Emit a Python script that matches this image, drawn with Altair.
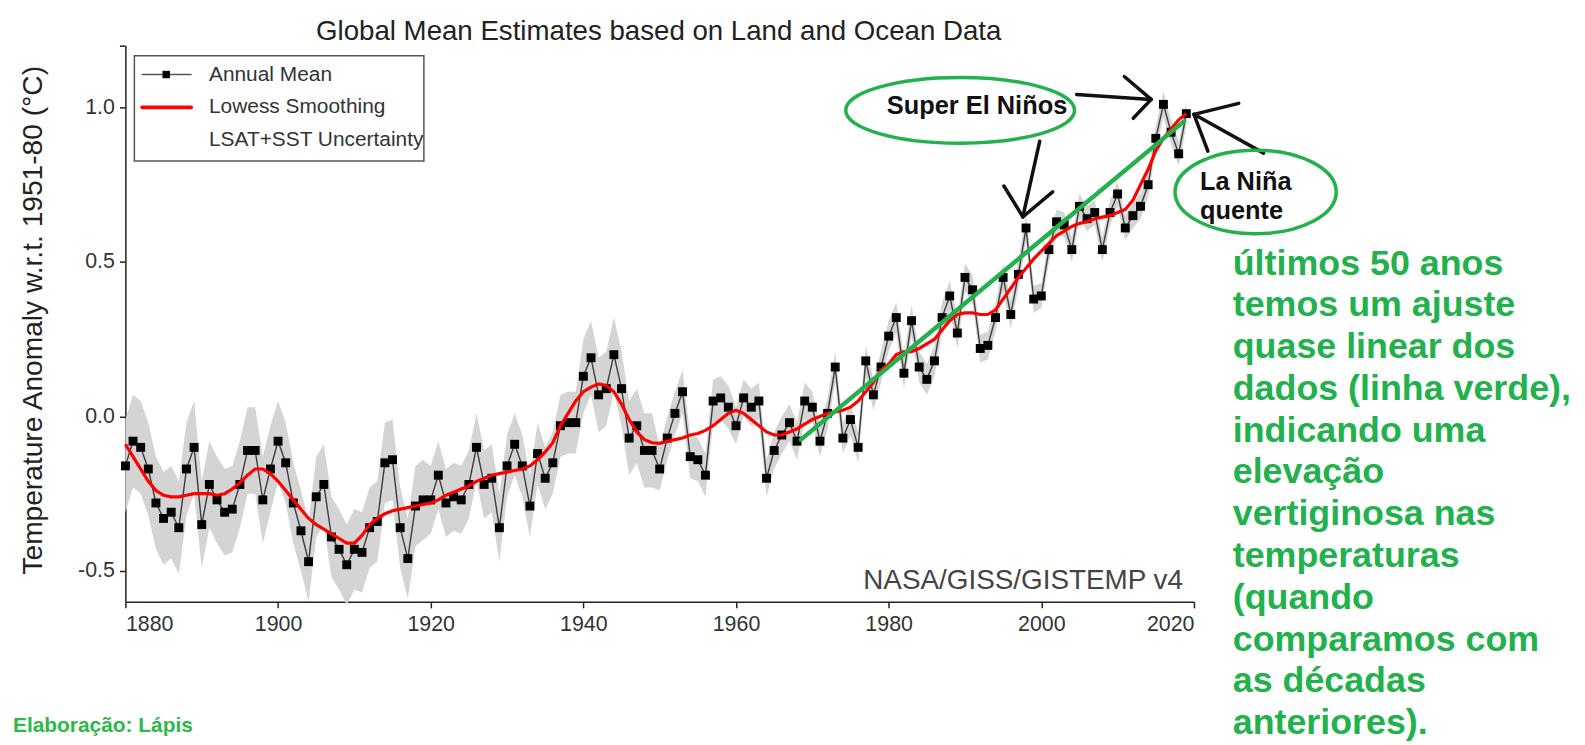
import altair as alt
import pandas as pd

FONT = "Liberation Sans"
GREEN = "#22b14c"

# ---------------- data ----------------
years = list(range(1880, 2020))

annual_mean = [
    -0.16, -0.08, -0.10, -0.17, -0.28, -0.33, -0.31, -0.36, -0.17, -0.10,   # 1880s
    -0.35, -0.22, -0.27, -0.31, -0.30, -0.22, -0.11, -0.11, -0.27, -0.17,   # 1890s
    -0.08, -0.15, -0.28, -0.37, -0.47, -0.26, -0.22, -0.39, -0.43, -0.48,   # 1900s
    -0.43, -0.44, -0.36, -0.34, -0.15, -0.14, -0.36, -0.46, -0.29, -0.27,   # 1910s
    -0.27, -0.19, -0.28, -0.26, -0.27, -0.22, -0.10, -0.22, -0.20, -0.36,   # 1920s
    -0.16, -0.09, -0.16, -0.29, -0.12, -0.20, -0.15, -0.03, -0.02, -0.02,   # 1930s
    0.13, 0.19, 0.07, 0.09, 0.20, 0.09, -0.07, -0.03, -0.11, -0.11,         # 1940s
    -0.17, -0.07, 0.01, 0.08, -0.13, -0.14, -0.19, 0.05, 0.06, 0.03,        # 1950s
    -0.03, 0.06, 0.03, 0.05, -0.20, -0.11, -0.06, -0.02, -0.08, 0.05,       # 1960s
    0.03, -0.08, 0.01, 0.16, -0.07, -0.01, -0.10, 0.18, 0.07, 0.16,         # 1970s
    0.26, 0.32, 0.14, 0.31, 0.16, 0.12, 0.18, 0.32, 0.39, 0.27,             # 1980s
    0.45, 0.41, 0.22, 0.23, 0.32, 0.45, 0.33, 0.46, 0.61, 0.38,             # 1990s
    0.39, 0.54, 0.63, 0.62, 0.54, 0.68, 0.64, 0.66, 0.54, 0.66,             # 2000s
    0.72, 0.61, 0.65, 0.68, 0.75, 0.90, 1.01, 0.92, 0.85, 0.98,             # 2010s
]

lowess = [
    -0.09, -0.13, -0.17, -0.21, -0.24, -0.255, -0.26, -0.26, -0.255, -0.25,
    -0.25, -0.25, -0.255, -0.25, -0.235, -0.215, -0.19, -0.17, -0.17, -0.185,
    -0.21, -0.24, -0.27, -0.30, -0.33, -0.35, -0.365, -0.38, -0.395, -0.41,
    -0.41, -0.385, -0.35, -0.33, -0.315, -0.305, -0.30, -0.295, -0.29, -0.285,
    -0.28, -0.27, -0.255, -0.245, -0.235, -0.225, -0.21, -0.20, -0.19, -0.185,
    -0.18, -0.175, -0.17, -0.16, -0.14, -0.115, -0.085, -0.03, 0.01, 0.05,
    0.08, 0.095, 0.105, 0.10, 0.08, 0.04, -0.01, -0.05, -0.075, -0.085,
    -0.087, -0.08, -0.075, -0.07, -0.06, -0.055, -0.045, -0.03, -0.01, 0.01,
    0.02, 0.01, -0.01, -0.03, -0.05, -0.06, -0.06, -0.05, -0.04, -0.025,
    -0.01, 0.00, 0.01, 0.015, 0.02, 0.03, 0.05, 0.08, 0.11, 0.15,
    0.17, 0.20, 0.21, 0.21, 0.22, 0.235, 0.25, 0.28, 0.31, 0.33,
    0.335, 0.335, 0.33, 0.33, 0.345, 0.38, 0.415, 0.45, 0.48, 0.51,
    0.535, 0.56, 0.585, 0.60, 0.615, 0.625, 0.63, 0.64, 0.645, 0.65,
    0.66, 0.67, 0.70, 0.75, 0.80, 0.86, 0.90, 0.93, 0.96, 0.98,
]

# half-width of the LSAT+SST uncertainty band, one value per decade (1880s ... 2010s)
uncertainty_by_decade = [0.15, 0.14, 0.13, 0.13, 0.11, 0.10, 0.12, 0.07, 0.06, 0.05, 0.05, 0.045, 0.04, 0.04]

# green "linear fit" annotation line (start / end)
fit_years = [1968.5, 2018.7]
fit_values = [-0.075, 0.955]

x_ticks = [1880, 1900, 1920, 1940, 1960, 1980, 2000, 2020]
y_ticks = [-0.5, 0.0, 0.5, 1.0, 1.2]

title_text = "Global Mean Estimates based on Land and Ocean Data"
y_title_text = "Temperature Anomaly w.r.t. 1951-80 (°C)"
legend_labels = ["Annual Mean", "Lowess Smoothing", "LSAT+SST Uncertainty"]
source_text = "NASA/GISS/GISTEMP v4"
credit_text = "Elaboração: Lápis"
note_lines = [
    "últimos 50 anos",
    "temos um ajuste",
    "quase linear dos",
    "dados (linha verde),",
    "indicando uma",
    "elevação",
    "vertiginosa nas",
    "temperaturas",
    "(quando",
    "comparamos com",
    "as décadas",
    "anteriores).",
]

# ---------------- tables ----------------
unc = [uncertainty_by_decade[(y - 1880) // 10] for y in years]
df = pd.DataFrame({"year": years, "anom": annual_mean, "lowess": lowess, "unc": unc})
df["lo"] = df["anom"] - df["unc"]
df["hi"] = df["anom"] + df["unc"]
fit_df = pd.DataFrame({"year": fit_years, "anom": fit_values})
one = pd.DataFrame({"k": [0]})

W, H = 1074, 559
PAD = {"left": 118, "top": 36, "right": 385, "bottom": 140}

xs = alt.Scale(domain=[1880, 2020], nice=False, zero=False)
ys = alt.Scale(domain=[-0.6, 1.2], nice=False, zero=False)

xaxis = alt.Axis(values=x_ticks, format="d", title=None, grid=False,
                 labelFontSize=21.5, labelFont=FONT, labelColor="#333",
                 tickSize=6, tickWidth=1.5, tickColor="#222",
                 domainColor="#222", domainWidth=1.5, labelPadding=6)
yaxis = alt.Axis(values=y_ticks, title=None, grid=False,
                 labelExpr="datum.value > 1.1 ? '' : (datum.value < 0 ? '-' + format(-datum.value, '.1f') : format(datum.value, '.1f'))",
                 labelFontSize=21.5, labelFont=FONT, labelColor="#333",
                 tickSize=6, tickWidth=1.5, tickColor="#222",
                 domainColor="#222", domainWidth=1.5, labelPadding=5)

band = alt.Chart(df).mark_area(color="#d4d4d4", opacity=1).encode(
    x=alt.X("year:Q", scale=xs, axis=xaxis, title=None),
    y=alt.Y("lo:Q", scale=ys, axis=yaxis, title=None),
    y2="hi:Q",
)
ann_line = alt.Chart(df).mark_line(color="#3c3c3c", strokeWidth=1.4).encode(
    x=alt.X("year:Q", title=None), y=alt.Y("anom:Q", title=None))
ann_pts = alt.Chart(df).mark_square(size=80, color="#000000", opacity=1).encode(
    x=alt.X("year:Q", title=None), y=alt.Y("anom:Q", title=None))
low_line = alt.Chart(df).mark_line(color="#ff0000", strokeWidth=3.2).encode(
    x=alt.X("year:Q", title=None), y=alt.Y("lowess:Q", title=None))
fit_line = alt.Chart(fit_df).mark_line(color=GREEN, strokeWidth=4.5, strokeCap="round").encode(
    x=alt.X("year:Q", title=None), y=alt.Y("anom:Q", title=None))


def seg(x1, y1, x2, y2, color="#111111", w=3.5):
    return alt.Chart(one).mark_rule(color=color, strokeWidth=w, strokeCap="round").encode(
        x=alt.value(x1), y=alt.value(y1), x2=alt.value(x2), y2=alt.value(y2))


def txt(text, x, y, size, **kw):
    return alt.Chart(one).mark_text(text=text, fontSize=size, font=FONT, **kw).encode(
        x=alt.value(x), y=alt.value(y))


def ellipse(cx, cy, w, h):
    r = round(h / w, 4)
    path = f"M -1 0 A 1 {r} 0 1 0 1 0 A 1 {r} 0 1 0 -1 0 Z"
    return alt.Chart(one).mark_point(shape=path, size=w * w, filled=False, color=GREEN,
                                     strokeWidth=3.5, opacity=1).encode(
        x=alt.value(cx), y=alt.value(cy))


# legend (drawn by hand, like the reference)
legend = [
    alt.Chart(one).mark_rect(fill="white", stroke="#555", strokeWidth=1.5).encode(
        x=alt.value(9), x2=alt.value(300), y=alt.value(10), y2=alt.value(116)),
    seg(17, 29, 66, 29, color="#555555", w=1.5),
    alt.Chart(one).mark_square(size=56, color="#000", opacity=1).encode(x=alt.value(41), y=alt.value(29)),
    seg(17, 62, 66, 62, color="#ff0000", w=4),
    txt(legend_labels[0], 84, 29, 21, align="left", baseline="middle", color="#333"),
    txt(legend_labels[1], 84, 62, 21, align="left", baseline="middle", color="#333"),
    txt(legend_labels[2], 84, 95, 21, align="left", baseline="middle", color="#333"),
]

annotations = [
    # arrow to 2016
    seg(956, 49, 1031, 54), seg(1004, 31, 1031, 54), seg(1013, 73, 1031, 54),
    # arrow to 1998
    seg(919, 96, 902, 172), seg(883, 141, 902, 172), seg(932, 147, 902, 172),
    # arrow to 2019
    seg(1144, 108, 1074, 69), seg(1119, 58, 1074, 69), seg(1088, 106, 1074, 69),
    ellipse(839, 65, 230, 66),
    ellipse(1136, 147, 162, 84),
    txt("Super El Niños", 856, 61, 25.5, align="center", baseline="middle", fontWeight="bold", color="#111"),
    txt("La Niña", 1080, 137, 25.5, align="left", baseline="middle", fontWeight="bold", color="#111"),
    txt("quente", 1080, 166, 25.5, align="left", baseline="middle", fontWeight="bold", color="#111"),
]

texts = [
    txt(title_text, 536, -14, 27.8, align="center", baseline="middle", color="#222"),
    txt(y_title_text, -92, 276, 28.3, align="center", baseline="middle", angle=270, color="#222"),
    txt(source_text, 1063, 538, 28, align="right", baseline="middle", color="#444"),
    txt(credit_text, -113, 684, 21, align="left", baseline="middle", fontWeight="bold", color="#2eb84a"),
    alt.Chart(one).mark_text(text=note_lines, fontSize=36, font=FONT, fontWeight="bold",
                             color=GREEN, align="left", baseline="alphabetic",
                             lineHeight=42.0).encode(x=alt.value(1113), y=alt.value(230)),
]

chart = alt.layer(
    band, ann_line, ann_pts, low_line, fit_line, *legend, *annotations, *texts
).properties(
    width=W, height=H,
    padding=PAD,
    autosize=alt.AutoSizeParams(type="none"),
    background="white",
).configure_view(stroke=None)

chart.save("out.html", embed_options={"renderer": "svg", "actions": False})
